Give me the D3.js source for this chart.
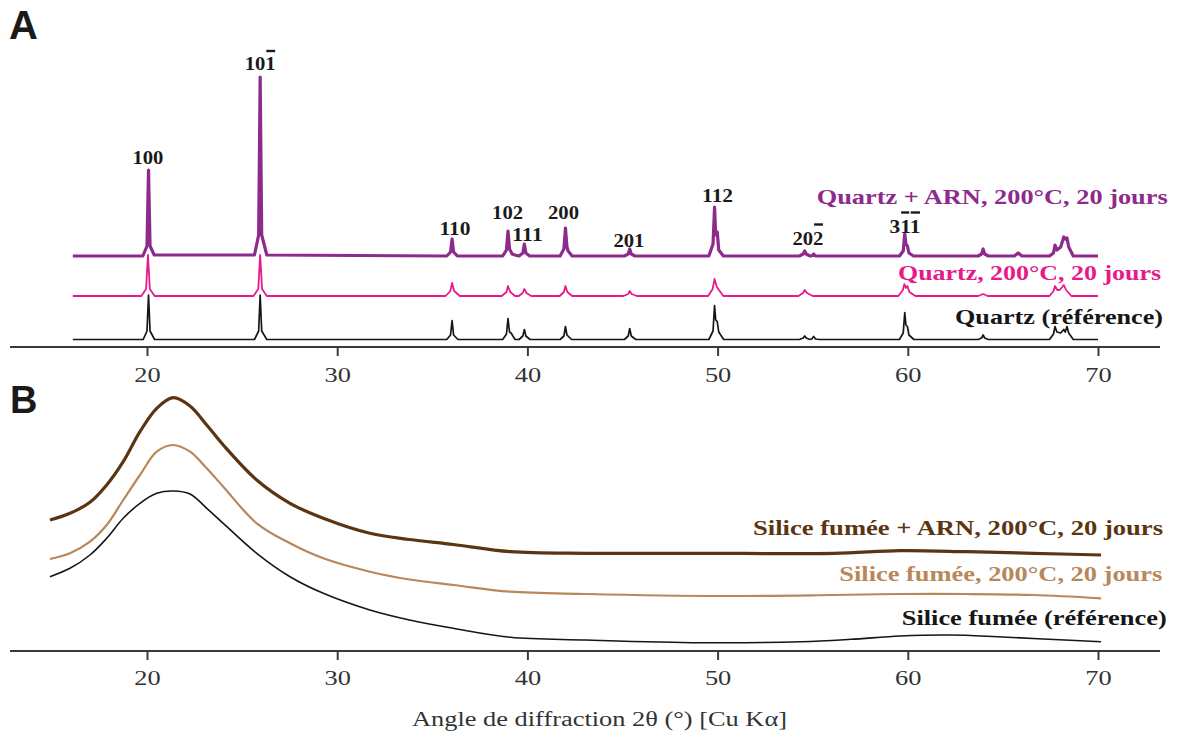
<!DOCTYPE html>
<html><head><meta charset="utf-8">
<script src="https://cdn.jsdelivr.net/npm/d3@7"></script>
<style>
html,body{margin:0;padding:0;background:#fff;}
svg{display:block;}
</style></head>
<body>
<svg id="chart" width="1178" height="733"></svg>
<script>
// ---------------- DATA ----------------
const xTicks = [20, 30, 40, 50, 60, 70];

// Panel A : Quartz (2θ, intensity a.u.)
const quartzRef = [
 [16.1,7.5],[19.8,7.5],[20.0,16],[20.08,52],[20.16,16],[20.4,7.5],
 [25.65,7.5],[25.87,16],[25.95,52],[26.03,16],[26.3,7.5],
 [35.76,7.5],[35.96,12],[36.04,26.5],[36.12,12],[36.35,7.5],
 [38.7,7.5],[38.9,13],[38.98,28.5],[39.06,15],[39.14,14],[39.35,7.5],
 [39.56,7.5],[39.76,11],[39.84,17.5],[39.92,11],[40.14,7.5],
 [41.72,7.5],[41.92,11],[42.0,20.5],[42.08,12],[42.32,7.5],
 [45.1,7.5],[45.3,11],[45.38,18.5],[45.46,11],[45.7,7.5],
 [49.54,7.5],[49.76,16],[49.84,41.5],[49.9,27],[49.98,25.5],[50.06,15],[50.32,7.5],
 [54.3,7.5],[54.5,9],[54.58,11],[54.66,9],[54.85,7.5],[54.95,8],[55.05,10.5],[55.15,8],[55.35,7.5],
 [59.56,7.5],[59.76,14],[59.84,34.5],[59.9,22],[59.98,20.5],[60.06,12],[60.32,7.5],
 [63.7,7.5],[63.88,9],[63.96,12],[64.04,9],[64.24,7.5],
 [67.45,7.5],[67.66,13],[67.74,20.5],[67.84,15],[68.04,14],[68.2,17.5],[68.28,15],[68.37,20.5],[68.46,14],[68.7,7.5],
 [70.0,7.5]
];
const quartz200 = [
 [16.1,51],[19.7,51],[19.95,58],[20.05,92],[20.15,58],[20.4,51],
 [25.6,51],[25.85,58],[25.95,92],[26.05,58],[26.3,51],
 [35.7,51],[35.95,56],[36.04,64],[36.15,56],[36.45,51],
 [38.65,51],[38.9,55],[38.98,61],[39.1,55],[39.35,51],
 [39.55,51],[39.75,54],[39.84,58],[39.95,54],[40.2,51],
 [41.7,51],[41.92,55],[42.0,61],[42.1,55],[42.35,51],
 [45.05,51],[45.3,53],[45.38,56],[45.48,53],[45.75,51],
 [49.5,51],[49.74,58],[49.84,68],[49.96,60],[50.3,51],
 [54.25,51],[54.5,54],[54.58,57],[54.7,54],[55.0,51],
 [59.5,51],[59.74,57],[59.82,63],[59.9,59],[59.98,61],[60.08,55],[60.4,51],
 [63.7,51],[63.96,53],[64.2,51],
 [67.45,51],[67.66,56],[67.74,61],[67.86,57],[67.98,57],[68.12,60],[68.2,62],[68.32,57],[68.6,51],
 [70.0,51]
];
const quartzARN = [
 [16.1,91],[19.78,91],[20.0,101],[20.08,177],[20.16,101],[20.38,92],
 [25.65,92],[25.87,112],[25.95,270],[26.03,112],[26.3,92],
 [35.76,91],[35.96,95],[36.04,108],[36.12,95],[36.32,91],
 [38.7,91],[38.9,97],[38.98,116],[39.06,98],[39.2,93],[39.34,92],
 [39.56,91],[39.76,94],[39.84,103],[39.92,94],[40.12,91],
 [41.72,91],[41.92,98],[42.0,119],[42.08,100],[42.14,96],[42.35,91],
 [45.1,91],[45.3,93],[45.38,98],[45.46,93],[45.66,91],
 [49.54,91],[49.76,103],[49.84,140],[49.9,112],[49.98,115],[50.06,97],[50.3,91],
 [54.3,91],[54.5,93],[54.58,96],[54.66,93],[54.86,91],[54.95,91],[55.05,93],[55.15,91],
 [59.56,91],[59.76,96],[59.84,113],[59.9,103],[59.98,101],[60.06,94],[60.3,91],
 [63.7,91],[63.88,93],[63.96,98],[64.04,93],[64.24,91],
 [65.6,91],[65.8,94],[66.0,91],
 [67.45,91],[67.66,94],[67.74,102],[67.84,97],[68.04,100],[68.2,110],[68.28,108],[68.37,109],[68.46,100],[68.7,91],
 [70.0,91]
];
const quartzNames = ["Quartz (référence)", "Quartz, 200°C, 20 jours", "Quartz + ARN, 200°C, 20 jours"];

// Miller indices of the labelled peaks (overline = indices of barred digits)
const peakLabels   = ["100","101","110","102","111","200","201","112","202","311"];
const peakBars     = [[],[2],[],[],[],[],[],[],[2],[1,2]];
const peakLabelPos = [20.05,25.95,36.19,38.96,40.0,41.9,45.34,50.0,54.75,59.85];
const peakLabelVal = [183,277,112,128,106,128,100,145,102,114];

// Panel B : Silice fumée
const siliceRef = [
 [14.9,74.3],[15.95,82.7],[17.0,96],[17.88,112.7],[18.75,132.7],[19.63,147.7],[20.51,157.7],
 [21.38,160],[22.26,157],[23.14,142.7],[24.01,127.7],[25.77,97.7],[27.52,74.3],[29.27,57.7],
 [31.72,41],[33.8,31],[36.1,22.7],[39.1,13.7],[43.1,11],[49.1,8.3],[54.4,9.3],[57.0,11.7],
 [59.6,15],[62.2,16],[64.7,14.3],[67.4,11.7],[70.16,9.3]
];
const silice200 = [
 [14.9,92],[15.95,97.7],[17.0,109.3],[17.88,126],[18.75,151],[19.63,176],[20.51,199.3],
 [21.38,206],[22.26,199.3],[23.14,182.7],[24.01,164.3],[25.77,127.7],[27.52,107.7],[29.27,92.7],
 [31.72,79.3],[33.8,71.5],[36.1,66],[39.1,59.3],[43.1,57],[50.16,55],[56.1,56],[59.6,57],
 [63.1,57],[66.6,56],[70.16,52.7]
];
const siliceARN = [
 [14.9,131],[15.95,137.7],[17.0,148.7],[17.88,166],[18.75,189.3],[19.63,219.3],[20.51,242.7],
 [21.38,253.3],[22.26,245],[23.14,226],[24.01,206],[25.77,171],[27.52,147.7],[29.27,132.7],
 [31.72,117.7],[33.8,111.5],[36.1,106.5],[39.1,99.3],[43.1,97.7],[49.1,97.7],[56.1,97.7],
 [59.6,100.3],[63.1,99.3],[66.6,97.7],[70.16,96]
];
const siliceNames = ["Silice fumée (référence)", "Silice fumée, 200°C, 20 jours", "Silice fumée + ARN, 200°C, 20 jours"];

const xTitle = "Angle de diffraction 2θ (°) [Cu Kα]";

// ---------------- LAYOUT / STYLE ----------------
const svg = d3.select("#chart");
const serif = "'Liberation Serif','Times New Roman',Times,serif";
const sans = "'Liberation Sans',Arial,Helvetica,sans-serif";
const axisColor = "#3a3a3a";

const x = d3.scaleLinear().domain([20, 70]).range([147, 1098]);
const yA = d3.scaleLinear().domain([0, 300]).range([347, 47]);
const yB = d3.scaleLinear().domain([0, 260]).range([651, 391]);

const colA = ["#161616", "#e8198b", "#8c2b8c"];
const widthA = [1.7, 1.8, 3.2];
const colB = ["#161616", "#b8875a", "#5b3512"];
const widthB = [1.6, 2.2, 3.2];

function drawAxis(yPix, labelOffset) {
  const g = svg.append("g").attr("transform", `translate(0,${yPix})`);
  g.call(d3.axisBottom(x).tickValues(xTicks).tickSize(9).tickSizeOuter(0).tickFormat(d3.format("d")));
  g.select(".domain").remove();
  g.selectAll(".tick line").attr("stroke", axisColor).attr("stroke-width", 2);
  g.selectAll(".tick text")
    .attr("y", labelOffset).attr("dy", 0)
    .attr("fill", "#333").attr("font-family", serif).attr("font-size", 22)
    .attr("transform", "scale(1.2,1)");
  g.append("line").attr("x1", 10).attr("x2", 1160).attr("y1", 0).attr("y2", 0)
    .attr("stroke", axisColor).attr("stroke-width", 2);
}

// Panel A
const lineA = d3.line().x(d => x(d[0])).y(d => yA(d[1])).curve(d3.curveLinear);
[quartzRef, quartz200, quartzARN].forEach((s, i) => {
  svg.append("path").datum(s).attr("d", lineA)
    .attr("fill", "none").attr("stroke", colA[i]).attr("stroke-width", widthA[i])
    .attr("stroke-linejoin", "round");
});
drawAxis(347, 35);

// peak labels
peakLabels.forEach((lab, i) => {
  const t = svg.append("text")
    .attr("x", x(peakLabelPos[i])).attr("y", yA(peakLabelVal[i]))
    .attr("text-anchor", "middle")
    .attr("font-family", serif).attr("font-weight", "bold").attr("font-size", 19)
    .attr("fill", "#1a1a1a")
    .attr("textLength", 31).attr("lengthAdjust", "spacingAndGlyphs")
    .text(lab);
  const node = t.node();
  peakBars[i].forEach(ci => {
    const s = node.getStartPositionOfChar(ci), e = node.getEndPositionOfChar(ci);
    const up = (lab === "101") ? 19 : 20.5;
    svg.append("line")
      .attr("x1", s.x + 1).attr("x2", e.x - 0.5)
      .attr("y1", s.y - up).attr("y2", s.y - up)
      .attr("stroke", "#1a1a1a").attr("stroke-width", 2.4);
  });
});

// legends A
const legA = [[955, 324, 208], [898, 280, 263], [816.7, 204, 351]];
quartzNames.forEach((n, i) => {
  svg.append("text").attr("x", legA[i][0]).attr("y", legA[i][1])
    .attr("font-family", serif).attr("font-weight", "bold").attr("font-size", 22)
    .attr("fill", colA[i])
    .attr("textLength", legA[i][2]).attr("lengthAdjust", "spacingAndGlyphs")
    .text(n);
});

// Panel B
const lineB = d3.line().x(d => x(d[0])).y(d => yB(d[1])).curve(d3.curveCatmullRom.alpha(0.5));
[siliceRef, silice200, siliceARN].forEach((s, i) => {
  svg.append("path").datum(s).attr("d", lineB)
    .attr("fill", "none").attr("stroke", colB[i]).attr("stroke-width", widthB[i])
    .attr("stroke-linejoin", "round");
});
drawAxis(651, 34);

const legB = [[901.7, 625, 265], [839.3, 581, 323], [753, 535, 410]];
siliceNames.forEach((n, i) => {
  svg.append("text").attr("x", legB[i][0]).attr("y", legB[i][1])
    .attr("font-family", serif).attr("font-weight", "bold").attr("font-size", 22)
    .attr("fill", colB[i])
    .attr("textLength", legB[i][2]).attr("lengthAdjust", "spacingAndGlyphs")
    .text(n);
});

// x title
svg.append("text").attr("x", 412).attr("y", 726)
  .attr("font-family", serif).attr("font-size", 20).attr("fill", "#333")
  .attr("textLength", 375).attr("lengthAdjust", "spacingAndGlyphs")
  .text(xTitle);

// panel letters
svg.append("text").attr("x", 9).attr("y", 39).attr("font-family", sans)
  .attr("font-weight", "bold").attr("font-size", 40).attr("fill", "#1a1a1a").text("A");
svg.append("text").attr("x", 10).attr("y", 413).attr("font-family", sans)
  .attr("font-weight", "bold").attr("font-size", 38).attr("fill", "#1a1a1a").text("B");
</script>
</body></html>
